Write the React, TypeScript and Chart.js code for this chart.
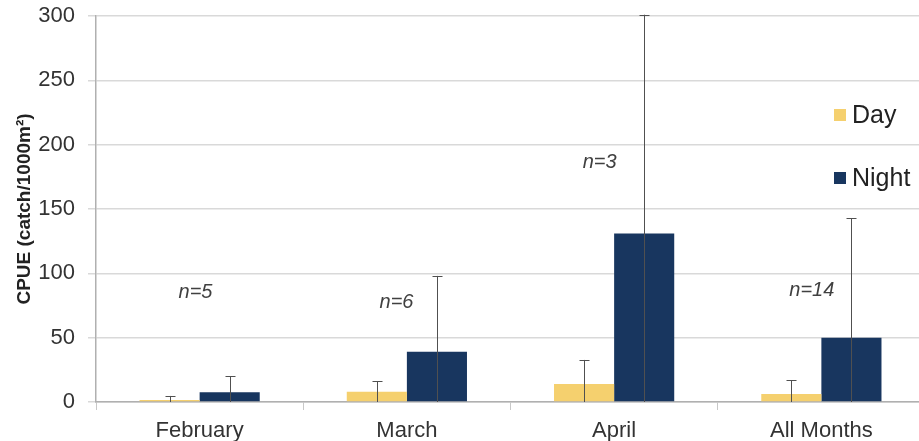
import React, { useEffect, useRef } from "react";
import { Chart, registerables } from "chart.js";

Chart.register(...registerables);

const categories = ["February", "March", "April", "All Months"];
const dayValues = [1.5, 8, 14, 6.3];
const dayErrors = [3.2, 8, 18.7, 10.7];
const nightValues = [7.5, 39, 131, 50];
const nightErrors = [12.5, 59, 170, 93];
const sampleLabels = ["n=5", "n=6", "n=3", "n=14"];
const sampleLabelY = [85, 77, 186, 87];
const sampleLabelShift = [-0.02, -0.05, -0.07, -0.046];
const yTicks = [0, 50, 100, 150, 200, 250, 300];
const seriesNames = ["Day", "Night"];

const DAY_COLOR = "#F5D06E";
const NIGHT_COLOR = "#18365F";
const FONT = "'Liberation Sans', Arial, sans-serif";

const errorAndTextPlugin = {
  id: "errorAndText",
  afterDatasetsDraw(chart: any) {
    const ctx = chart.ctx;
    const y = chart.scales.y;
    const x = chart.scales.x;
    const errs = [dayErrors, nightErrors];
    const vals = [dayValues, nightValues];
    ctx.save();
    ctx.strokeStyle = "#505050";
    ctx.lineWidth = 1;
    for (let d = 0; d < 2; d++) {
      const meta = chart.getDatasetMeta(d);
      meta.data.forEach((bar: any, i: number) => {
        const v = vals[d][i];
        const e = errs[d][i];
        const cx = Math.round(bar.x) + 0.5;
        const top = y.getPixelForValue(v + e);
        const lowVal = v - e;
        const bottom = y.getPixelForValue(Math.max(0, lowVal));
        ctx.beginPath();
        ctx.moveTo(cx, bottom);
        ctx.lineTo(cx, top);
        ctx.moveTo(cx - 5, Math.round(top) + 0.5);
        ctx.lineTo(cx + 5, Math.round(top) + 0.5);
        if (lowVal > 0) {
          ctx.moveTo(cx - 5, Math.round(bottom) + 0.5);
          ctx.lineTo(cx + 5, Math.round(bottom) + 0.5);
        }
        ctx.stroke();
      });
    }
    // sample size labels
    ctx.fillStyle = "#404040";
    ctx.font = `italic 20px ${FONT}`;
    ctx.textAlign = "center";
    ctx.textBaseline = "middle";
    sampleLabels.forEach((t, i) => {
      const px = x.getPixelForValue(i + sampleLabelShift[i]);
      const py = y.getPixelForValue(sampleLabelY[i]);
      ctx.fillText(t, px, py);
    });
    // legend
    const colors = [DAY_COLOR, NIGHT_COLOR];
    const legendY = [115, 178];
    ctx.font = `25px ${FONT}`;
    ctx.textAlign = "left";
    seriesNames.forEach((n, i) => {
      ctx.fillStyle = colors[i];
      ctx.fillRect(834, legendY[i] - 6, 12, 12);
      ctx.fillStyle = "#222";
      ctx.fillText(n, 852, legendY[i] + 1);
    });
    ctx.restore();
  },
};

export default function App() {
  const ref = useRef<HTMLCanvasElement>(null);
  useEffect(() => {
    if (!ref.current) return;
    const chart = new Chart(ref.current, {
      type: "bar",
      data: {
        labels: categories,
        datasets: [
          {
            label: seriesNames[0],
            data: dayValues,
            backgroundColor: DAY_COLOR,
            categoryPercentage: 0.58,
            barPercentage: 1,
          },
          {
            label: seriesNames[1],
            data: nightValues,
            backgroundColor: NIGHT_COLOR,
            categoryPercentage: 0.58,
            barPercentage: 1,
          },
        ],
      },
      options: {
        responsive: false,
        animation: false,
        devicePixelRatio: 1,
        layout: { padding: { top: 16, right: 1, left: 0, bottom: 0 } },
        plugins: {
          legend: { display: false },
          tooltip: { enabled: false },
          title: { display: false },
        },
        scales: {
          x: {
            grid: {
              offset: true,
              drawOnChartArea: false,
              drawTicks: true,
              tickLength: 8,
              color: "#c8c8c8",
            },
            border: { color: "#b0b0b0", width: 1.5 },
            ticks: {
              color: "#333",
              font: { family: FONT, size: 22 },
              padding: 8,
            },
            afterFit: (s: any) => {
              s.height = 39;
              s.paddingLeft = 0;
              s.paddingRight = 0;
            },
          },
          y: {
            min: 0,
            max: 300,
            afterBuildTicks: (s: any) => {
              s.ticks = yTicks.map((v) => ({ value: v }));
            },
            grid: {
              color: "#d9d9d9",
              lineWidth: 1.5,
              tickLength: 8,
            },
            border: { color: "#b0b0b0", width: 1.5 },
            ticks: {
              color: "#333",
              font: { family: FONT, size: 22 },
              padding: 13,
            },
            title: {
              display: true,
              text: "CPUE (catch/1000m²)",
              color: "#222",
              font: { family: FONT, size: 19, weight: "bold" },
              padding: { top: 13, bottom: 0 },
            },
            afterFit: (s: any) => {
              s.width = 96;
              s.paddingTop = 0;
              s.paddingBottom = 0;
            },
          },
        },
      },
      plugins: [errorAndTextPlugin],
    });
    return () => chart.destroy();
  }, []);
  return (
    <div
      style={{
        position: "fixed",
        left: 0,
        top: 0,
        width: 919,
        height: 441,
        overflow: "hidden",
        background: "#fff",
      }}
    >
      <canvas ref={ref} width={926} height={441} style={{ display: "block" }} />
    </div>
  );
}
